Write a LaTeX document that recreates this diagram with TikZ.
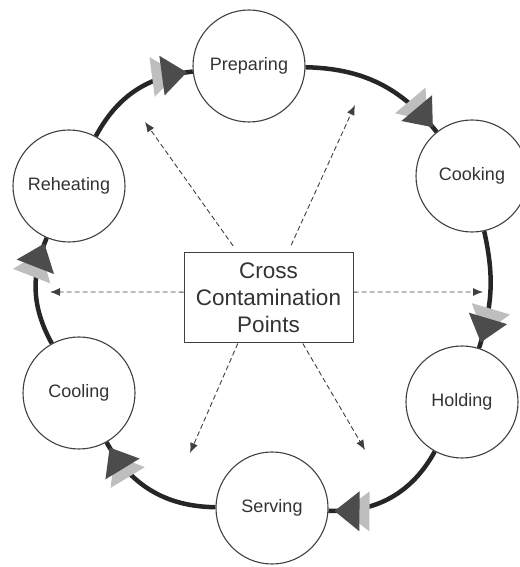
\documentclass[tikz,border=0pt]{standalone}
\usepackage{fontspec}
\setmainfont{Liberation Sans}
\usetikzlibrary{arrows.meta,decorations.markings}
\definecolor{ring}{HTML}{262626}
\definecolor{headdark}{HTML}{4C4C4C}
\definecolor{headlight}{HTML}{BEBEBE}
\definecolor{txt}{HTML}{333333}
\tikzset{
  stage/.style={circle,draw=black!75,line width=1.1pt,fill=white,minimum size=112pt,inner sep=0pt,text=txt,font=\fontsize{18}{21}\selectfont},
  flow/.style={draw=ring,line width=4.5pt,postaction={decorate},
    decoration={markings,mark=at position -6pt with {
      \fill[headlight] (-9pt,0pt) -- (-35pt,20pt) -- (-35pt,-20pt) -- cycle;
      \fill[headdark] (0pt,0pt) -- (-25pt,20pt) -- (-25pt,-20pt) -- cycle;}}},
  spread/.style={draw=black!75,dash pattern=on 5pt off 3pt,line width=0.9pt,-{Latex[length=10pt,width=8pt]}}
}

\begin{document}
\begin{tikzpicture}[x=1pt,y=1pt]
\useasboundingbox (0,0) rectangle (519,567);
\node[stage] (P) at (249,501) {Preparing};
\node[stage] (K) at (472,391) {Cooking};
\node[stage] (H) at (462,165) {Holding};
\node[stage] (S) at (272,59) {Serving};
\node[stage] (L) at (79,174) {Cooling};
\node[stage] (R) at (69,381) {Reheating};
\node[draw=black!75,line width=1pt,minimum width=169pt,minimum height=90pt,align=center,text=txt,font=\fontsize{22.5}{27}\selectfont] (M) at (268.5,269) {Cross\\Contamination\\Points};

\draw[flow] (P) to[bend left=25] (K);
\draw[flow] (K) to[bend left=15] (H);
\draw[flow] (H) to[bend left=32] (S);
\draw[flow] (S) to[bend left=30] (L);
\draw[flow] (L) to[bend left=26] (R);
\draw[flow] (R) to[bend left=28] (P);

\coordinate (U) at (145,445);
\coordinate (V) at (355,462);
\coordinate (W) at (50,275);
\coordinate (X) at (483,275);
\coordinate (Y) at (190,114);
\coordinate (Z) at (365,117);

\draw[spread,shorten <=8pt] (M.124) -- (U);
\draw[spread,shorten <=8pt] (M.67) -- (V);
\draw[spread] (M.176) -- (W);
\draw[spread] (M.4) -- (X);
\draw[spread] (M.236) -- (Y);
\draw[spread] (M.307) -- (Z);
\end{tikzpicture}
\end{document}
